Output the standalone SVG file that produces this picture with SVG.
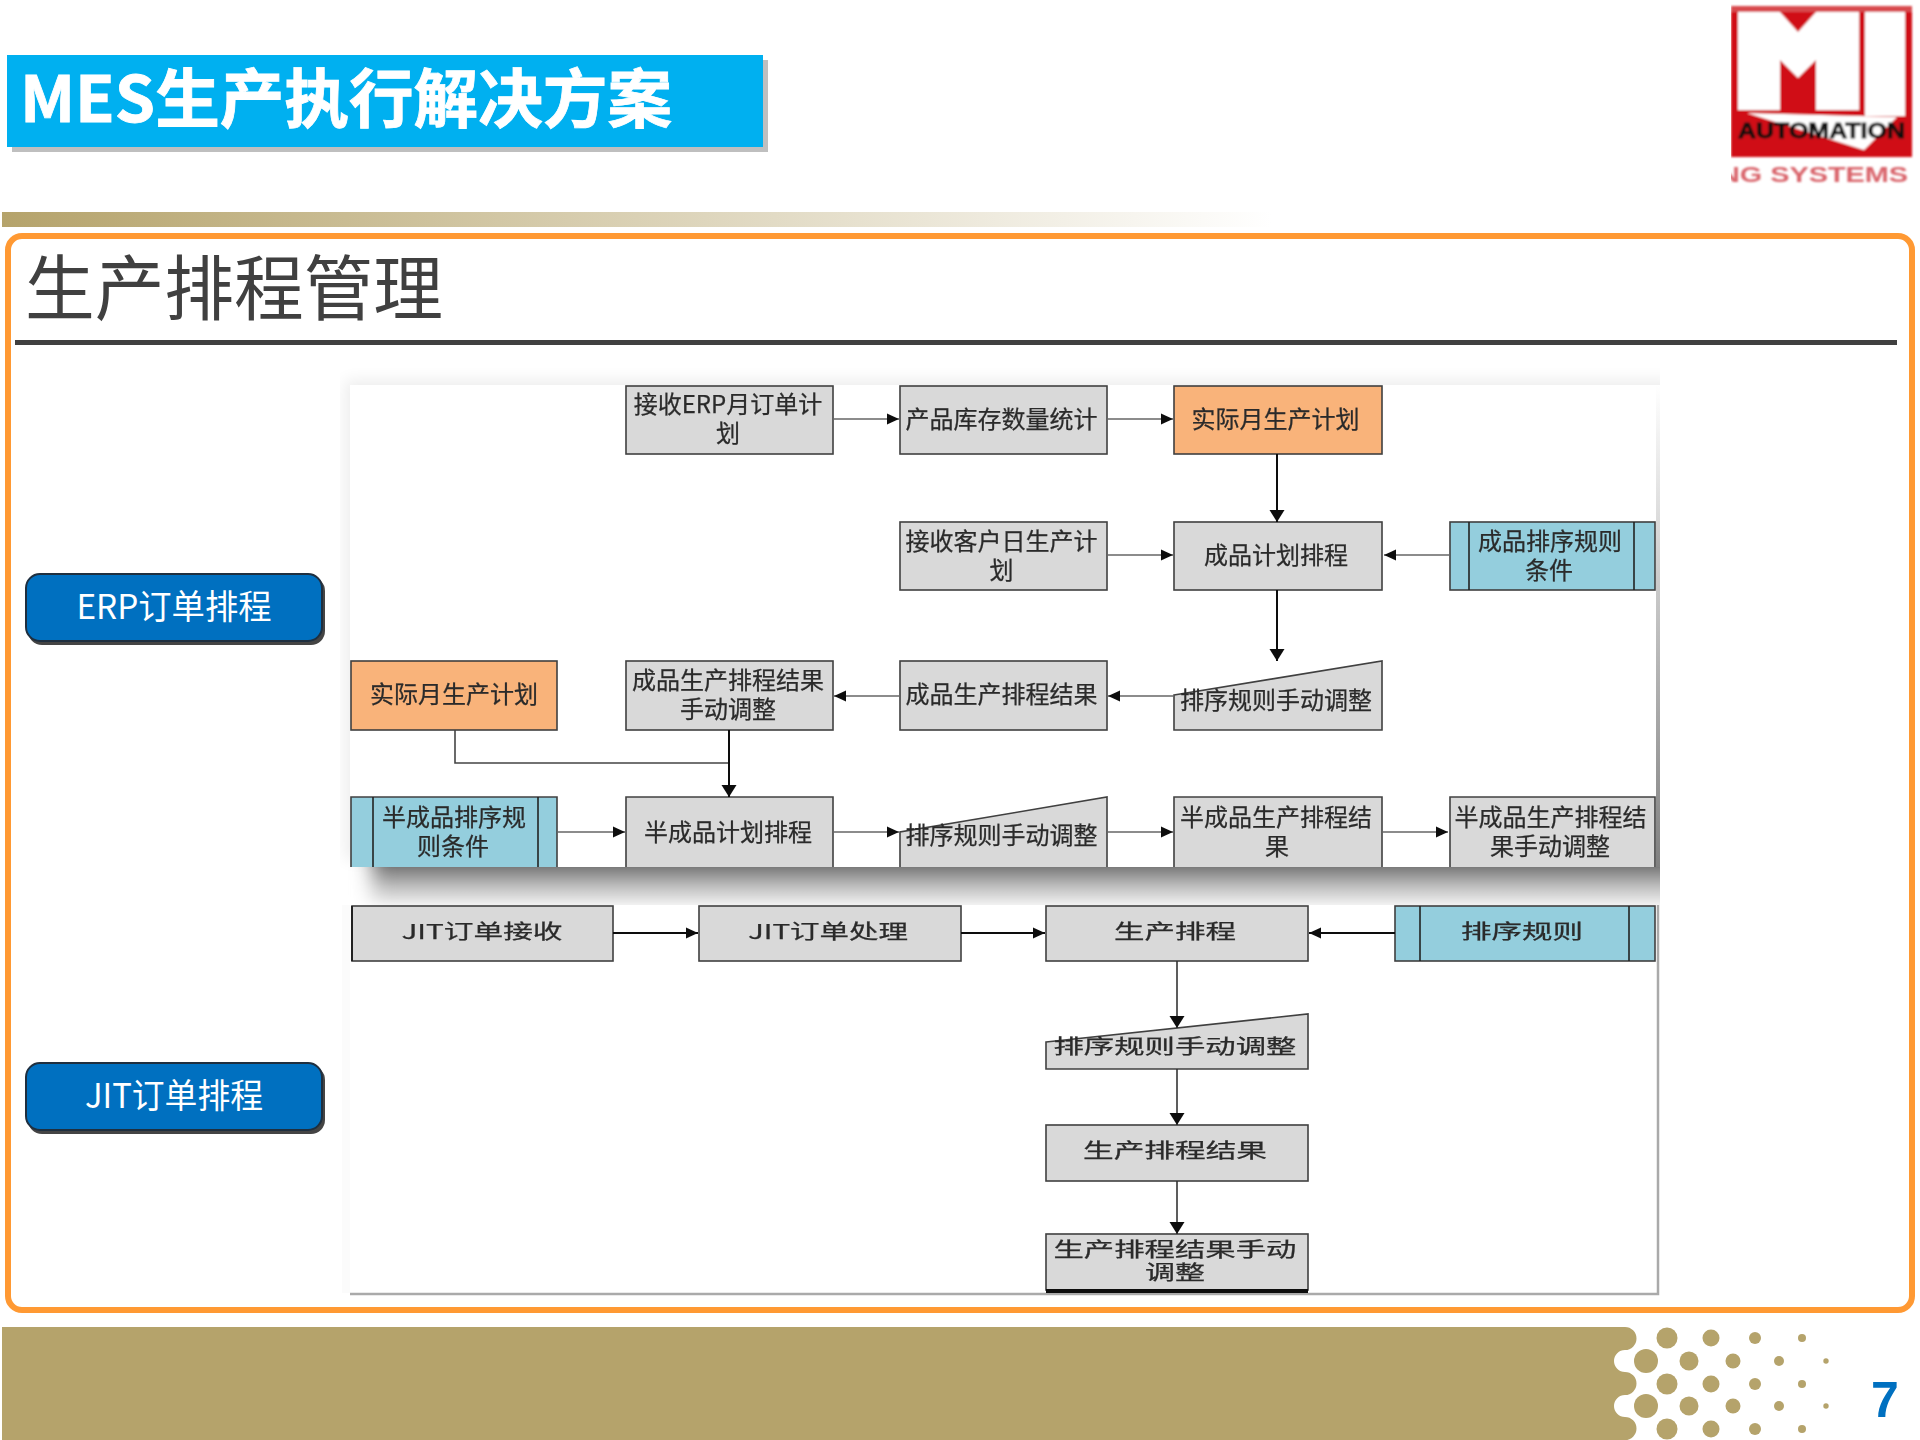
<svg xmlns="http://www.w3.org/2000/svg" width="1920" height="1440" viewBox="0 0 1920 1440">
<style>
text{font-family:"Noto Sans CJK SC","Noto Sans",sans-serif}
.t{font-size:24px;fill:#2b2b2b;stroke:#2b2b2b;stroke-width:.25;text-anchor:middle}
.s{font-size:20px;fill:#2b2b2b;stroke:#2b2b2b;stroke-width:.25;text-anchor:middle}
.g{fill:#d9d9d9;stroke:#404040;stroke-width:1.6}
.o{fill:#f9b37a;stroke:#404040;stroke-width:1.6}
.b{fill:#94cedd;stroke:#404040;stroke-width:1.6}
.in{stroke:#222;stroke-width:1.6;fill:none}
.cg{fill:none;stroke:#666;stroke-width:1.6;marker-end:url(#ah)}
.ck{fill:none;stroke:#111;stroke-width:2;marker-end:url(#ahv)}
.cd{fill:none;stroke:#333;stroke-width:1.6;marker-end:url(#ahv)}
.cl{fill:none;stroke:#111;stroke-width:2;marker-end:url(#ah)}
.pl{fill:none;stroke:#444;stroke-width:1.6}
.btn{fill:#0070c0;stroke:#1f2f3f;stroke-width:2}
.btnt{font-size:34px;fill:#fff;text-anchor:middle}
.dot{fill:#b5a36b}
</style>
<defs>
<marker id="ah" markerUnits="userSpaceOnUse" markerWidth="12" markerHeight="12" refX="12" refY="6" orient="auto"><path d="M0,0.5 L12,6 L0,11.5 Z" fill="#111"/></marker>
<marker id="ahv" markerUnits="userSpaceOnUse" markerWidth="12" markerHeight="16" refX="12" refY="8" orient="auto"><path d="M0,0.5 L12,8 L0,15.5 Z" fill="#111"/></marker>
<linearGradient id="bar" x1="0" x2="1" y1="0" y2="0"><stop offset="0" stop-color="#b5a36b"/><stop offset="1" stop-color="#ffffff"/></linearGradient>
<linearGradient id="edge" x1="0" x2="0" y1="0" y2="1"><stop offset="0" stop-color="#fff"/><stop offset="1" stop-color="#808080"/></linearGradient>
<linearGradient id="under" x1="0" x2="0" y1="0" y2="1"><stop offset="0" stop-color="#7a7a7a"/><stop offset="0.5" stop-color="#bdbdbd"/><stop offset="1" stop-color="#f2f2f2"/></linearGradient>
<filter id="soft" x="-5%" y="-5%" width="110%" height="110%"><feGaussianBlur stdDeviation="0.6"/></filter>
<filter id="softer" x="-5%" y="-5%" width="110%" height="110%"><feGaussianBlur stdDeviation="1.1"/></filter>
<filter id="sh" x="-10%" y="-10%" width="120%" height="120%"><feGaussianBlur stdDeviation="8"/></filter>
<filter id="shx" x="-5%" y="0" width="110%" height="100%"><feGaussianBlur stdDeviation="10 0"/></filter>
<clipPath id="upclip"><rect x="340" y="368" width="1320" height="537"/></clipPath>
<clipPath id="lowclip"><rect x="340" y="905" width="1320" height="395"/></clipPath>
<clipPath id="logoclip"><rect x="1731" y="0" width="189" height="200"/></clipPath>
</defs>
<rect width="1920" height="1440" fill="#fff"/>

<g id="header-banner">
<rect x="12" y="60" width="756" height="92" fill="#bfbfbf"/>
<rect x="7" y="55" width="756" height="92" fill="#00b0f0"/>
<text x="20" y="122" font-size="64" font-weight="700" fill="#fff" stroke="#fff" stroke-width=".8" textLength="652" lengthAdjust="spacingAndGlyphs">MES生产执行解决方案</text>
</g>

<g id="logo" filter="url(#softer)" clip-path="url(#logoclip)">
<rect x="1731" y="6" width="181" height="151" fill="#d01015"/>
<rect x="1731" y="6" width="181" height="6" fill="#d8484d"/>
<rect x="1738" y="12" width="121" height="98" fill="#fff"/>
<rect x="1865" y="12" width="40" height="104" fill="#fff"/>
<polygon points="1780,12 1816,12 1798,32" fill="#d01015"/>
<polygon points="1780,60 1798,78 1816,60 1816,110 1780,110" fill="#d01015"/>
<polygon points="1747,113 1897,117 1864,150" fill="#fff"/>
<text x="1738" y="138" font-size="22" font-weight="700" fill="#111" stroke="#111" stroke-width=".8" textLength="167" lengthAdjust="spacingAndGlyphs" style="font-family:'Liberation Sans',sans-serif">AUTOMATION</text>
<text x="1719" y="182" font-size="22" font-weight="700" fill="#d9636a" textLength="189" lengthAdjust="spacingAndGlyphs" style="font-family:'Liberation Sans',sans-serif">NG SYSTEMS</text>
</g>

<rect id="gradient-bar" x="2" y="212" width="1270" height="15" fill="url(#bar)"/>
<rect id="frame" x="8" y="236" width="1904" height="1074" rx="14" fill="#fff" stroke="#ff9933" stroke-width="6"/>

<g id="section-title">
<text x="25" y="314" font-size="71" fill="#404040" textLength="418" lengthAdjust="spacingAndGlyphs">生产排程管理</text>
<rect x="15" y="340" width="1882" height="5" fill="#404040"/>
</g>

<g id="btn-erp">
<rect x="28" y="577" width="297" height="68" rx="14" fill="#444"/>
<rect class="btn" x="26" y="574" width="296" height="67" rx="14"/>
<text class="btnt" x="174" y="619" textLength="195" lengthAdjust="spacingAndGlyphs">ERP订单排程</text>
</g>
<g id="btn-jit">
<rect x="28" y="1066" width="297" height="68" rx="14" fill="#444"/>
<rect class="btn" x="26" y="1063" width="296" height="67" rx="14"/>
<text class="btnt" x="174" y="1108" textLength="178" lengthAdjust="spacingAndGlyphs">JIT订单排程</text>
</g>

<g id="panel-shadows">
<g clip-path="url(#upclip)">
<rect x="345" y="380" width="1330" height="480" fill="#000" opacity="0.07" filter="url(#sh)"/>
<rect x="372" y="867" width="1320" height="38" fill="url(#under)" filter="url(#shx)"/>
</g>
<g clip-path="url(#lowclip)"><rect x="342" y="905" width="8" height="388" fill="#fbfbfb"/></g>
</g>
<rect id="panel-upper" x="350" y="385" width="1306" height="482" fill="#fff"/>
<rect id="panel-upper-edge" x="1656" y="385" width="4" height="482" fill="url(#edge)"/>
<rect id="panel-lower" x="350" y="905" width="1308" height="388" fill="#fff"/>
<path id="panel-lower-edge" d="M1658,905 V1294 H350" fill="none" stroke="#aaa" stroke-width="2.5"/>

<g id="flow" filter="url(#soft)">
<g id="n-erp-plan"><rect class="g" x="626" y="386" width="207" height="68"/><text class="t" x="728" y="413">接收ERP月订单计</text><text class="t" x="728" y="442">划</text></g>
<g id="n-stock"><rect class="g" x="900" y="386" width="207" height="68"/><text class="t" x="1001.5" y="428">产品库存数量统计</text></g>
<g id="n-actual-top"><rect class="o" x="1174" y="386" width="208" height="68"/><text class="t" x="1275.5" y="428">实际月生产计划</text></g>
<g id="n-customer"><rect class="g" x="900" y="522" width="207" height="68"/><text class="t" x="1001.5" y="550">接收客户日生产计</text><text class="t" x="1001.5" y="579">划</text></g>
<g id="n-fg-plan"><rect class="g" x="1174" y="522" width="208" height="68"/><text class="t" x="1276" y="564">成品计划排程</text></g>
<g id="n-fg-rule"><rect class="b" x="1450" y="522" width="205" height="68"/><path class="in" d="M1469,522 V590 M1634,522 V590"/><text class="t" x="1550" y="550">成品排序规则</text><text class="t" x="1549" y="579">条件</text></g>
<g id="n-actual-left"><rect class="o" x="351" y="661" width="206" height="69"/><text class="t" x="454" y="703">实际月生产计划</text></g>
<g id="n-fg-adjust"><rect class="g" x="626" y="661" width="207" height="69"/><text class="t" x="728" y="689">成品生产排程结果</text><text class="t" x="728" y="718">手动调整</text></g>
<g id="n-fg-result"><rect class="g" x="900" y="661" width="207" height="69"/><text class="t" x="1001.5" y="703">成品生产排程结果</text></g>
<g id="n-manual-1"><polygon class="g" points="1174,695 1382,661 1382,730 1174,730"/><text class="t" x="1276" y="709">排序规则手动调整</text></g>
<g id="n-sf-rule"><path class="b" d="M351,867 V797 H557 V867"/><path class="in" d="M373,797 V867 M538,797 V867"/><text class="t" x="454" y="826">半成品排序规</text><text class="t" x="453" y="855">则条件</text></g>
<g id="n-sf-plan"><path class="g" d="M626,867 V797 H833 V867"/><text class="t" x="728" y="841">半成品计划排程</text></g>
<g id="n-manual-2"><path class="g" d="M900,867 V832 L1107,797 V867"/><text class="t" x="1001.5" y="844">排序规则手动调整</text></g>
<g id="n-sf-result"><path class="g" d="M1174,867 V797 H1382 V867"/><text class="t" x="1276" y="826">半成品生产排程结</text><text class="t" x="1277" y="855">果</text></g>
<g id="n-sf-adjust"><path class="g" d="M1450,867 V797 H1655 V867"/><text class="t" x="1550.5" y="826">半成品生产排程结</text><text class="t" x="1550" y="855">果手动调整</text></g>

<g id="n-jit-recv"><rect class="g" x="352" y="906" width="261" height="55"/><path d="M352,906 V961" stroke="#222" stroke-width="2"/><text class="s" x="482" y="939" textLength="161" lengthAdjust="spacingAndGlyphs">JIT订单接收</text></g>
<g id="n-jit-proc"><rect class="g" x="699" y="906" width="262" height="55"/><text class="s" x="828" y="939" textLength="160" lengthAdjust="spacingAndGlyphs">JIT订单处理</text></g>
<g id="n-sched"><rect class="g" x="1046" y="906" width="262" height="55"/><text class="s" x="1175" y="939" textLength="122" lengthAdjust="spacingAndGlyphs">生产排程</text></g>
<g id="n-rule"><rect class="b" x="1395" y="906" width="260" height="55"/><path class="in" d="M1420,906 V961 M1629,906 V961"/><text class="s" x="1522" y="939" textLength="122" lengthAdjust="spacingAndGlyphs">排序规则</text></g>
<g id="n-manual-3"><polygon class="g" points="1046,1042 1308,1014 1308,1069 1046,1069"/><text class="s" x="1175" y="1054" textLength="243" lengthAdjust="spacingAndGlyphs">排序规则手动调整</text></g>
<g id="n-result"><rect class="g" x="1046" y="1125" width="262" height="56"/><text class="s" x="1175" y="1158" textLength="184" lengthAdjust="spacingAndGlyphs">生产排程结果</text></g>
<g id="n-adjust"><rect class="g" x="1046" y="1234" width="262" height="56"/><rect x="1046" y="1289" width="262" height="4" fill="#111"/><text class="s" x="1175" y="1257" textLength="243" lengthAdjust="spacingAndGlyphs">生产排程结果手动</text><text class="s" x="1175" y="1280" textLength="60" lengthAdjust="spacingAndGlyphs">调整</text></g>

<g id="connectors">
<path class="cg" d="M833,419 H899"/>
<path class="cg" d="M1107,419 H1173"/>
<path class="ck" d="M1277,454 V522"/>
<path class="cg" d="M1107,555 H1173"/>
<path class="cg" d="M1450,555 H1384"/>
<path class="ck" d="M1277,590 V661"/>
<path class="cg" d="M1174,696 H1108"/>
<path class="cg" d="M900,696 H834"/>
<path class="pl" d="M455,730 V763 H729"/>
<path class="ck" d="M729,730 V797"/>
<path class="cg" d="M557,832 H625"/>
<path class="cg" d="M833,832 H899"/>
<path class="cg" d="M1107,832 H1173"/>
<path class="cg" d="M1382,832 H1448"/>
<path class="cl" d="M613,933 H698"/>
<path class="cl" d="M961,933 H1045"/>
<path class="cl" d="M1395,933 H1309"/>
<path class="cd" d="M1177,961 V1028"/>
<path class="cd" d="M1177,1069 V1125"/>
<path class="cd" d="M1177,1181 V1234"/>
</g>
</g>

<g id="footer">
<path d="M2,1327 H1625 A11.5,11.5 0 0 1 1625,1350 A11,11 0 0 0 1625,1372 A11.5,11.5 0 0 1 1625,1395 A11,11 0 0 0 1625,1417 A11.5,11.5 0 0 1 1625,1440 H2 Z" fill="#b5a36b"/>
<g>
<circle class="dot" cx="1667" cy="1338" r="10.5"/><circle class="dot" cx="1711" cy="1338" r="8.5"/><circle class="dot" cx="1755" cy="1338" r="6"/><circle class="dot" cx="1802" cy="1338" r="4"/>
<circle class="dot" cx="1646" cy="1361" r="12"/><circle class="dot" cx="1689" cy="1361" r="9.5"/><circle class="dot" cx="1733" cy="1361" r="7.5"/><circle class="dot" cx="1779" cy="1361" r="5"/><circle class="dot" cx="1826" cy="1361" r="2.7"/>
<circle class="dot" cx="1667" cy="1384" r="10.5"/><circle class="dot" cx="1711" cy="1384" r="8.5"/><circle class="dot" cx="1755" cy="1384" r="6"/><circle class="dot" cx="1802" cy="1384" r="4"/>
<circle class="dot" cx="1646" cy="1406" r="12"/><circle class="dot" cx="1689" cy="1406" r="9.5"/><circle class="dot" cx="1733" cy="1406" r="7.5"/><circle class="dot" cx="1779" cy="1406" r="5"/><circle class="dot" cx="1826" cy="1406" r="2.7"/>
<circle class="dot" cx="1667" cy="1429" r="10.5"/><circle class="dot" cx="1711" cy="1429" r="8.5"/><circle class="dot" cx="1755" cy="1429" r="6"/><circle class="dot" cx="1802" cy="1429" r="4"/>
</g>
<text x="1871" y="1417" font-size="50" font-weight="700" fill="#0070c0" style="font-family:'Liberation Sans',sans-serif">7</text>
</g>
</svg>
